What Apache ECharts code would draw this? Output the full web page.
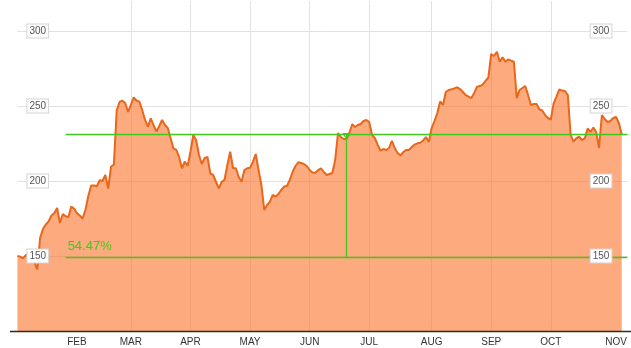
<!DOCTYPE html>
<html>
<head>
<meta charset="utf-8">
<script src="https://cdn.jsdelivr.net/npm/echarts@6/dist/echarts.min.js"></script>
<style>
html,body{margin:0;padding:0;background:#fff;}
#chart{width:631px;height:348px;}
</style>
</head>
<body>
<div id="chart"></div>
<script>
// ---- data ----
var dates = [
'2014-01-02','2014-01-03','2014-01-06','2014-01-07','2014-01-08','2014-01-09','2014-01-10','2014-01-13','2014-01-14','2014-01-15','2014-01-16','2014-01-17','2014-01-21','2014-01-22','2014-01-23','2014-01-24','2014-01-27','2014-01-28','2014-01-29','2014-01-30','2014-01-31',
'2014-02-03','2014-02-04','2014-02-05','2014-02-06','2014-02-07','2014-02-10','2014-02-11','2014-02-12','2014-02-13','2014-02-14','2014-02-18','2014-02-19','2014-02-20','2014-02-21','2014-02-24','2014-02-25','2014-02-26','2014-02-27','2014-02-28',
'2014-03-03','2014-03-04','2014-03-05','2014-03-06','2014-03-07','2014-03-10','2014-03-11','2014-03-12','2014-03-13','2014-03-14','2014-03-17','2014-03-18','2014-03-19','2014-03-20','2014-03-21','2014-03-24','2014-03-25','2014-03-26','2014-03-27','2014-03-28','2014-03-31',
'2014-04-01','2014-04-02','2014-04-03','2014-04-04','2014-04-07','2014-04-08','2014-04-09','2014-04-10','2014-04-11','2014-04-14','2014-04-15','2014-04-16','2014-04-17','2014-04-21','2014-04-22','2014-04-23','2014-04-24','2014-04-25','2014-04-28','2014-04-29','2014-04-30',
'2014-05-01','2014-05-02','2014-05-05','2014-05-06','2014-05-07','2014-05-08','2014-05-09','2014-05-12','2014-05-13','2014-05-14','2014-05-15','2014-05-16','2014-05-19','2014-05-20','2014-05-21','2014-05-22','2014-05-23','2014-05-27','2014-05-28','2014-05-29','2014-05-30',
'2014-06-02','2014-06-03','2014-06-04','2014-06-05','2014-06-06','2014-06-09','2014-06-10','2014-06-11','2014-06-12','2014-06-13','2014-06-16','2014-06-17','2014-06-18','2014-06-19','2014-06-20','2014-06-23','2014-06-24','2014-06-25','2014-06-26','2014-06-27','2014-06-30',
'2014-07-01','2014-07-02','2014-07-03','2014-07-07','2014-07-08','2014-07-09','2014-07-10','2014-07-11','2014-07-14','2014-07-15','2014-07-16','2014-07-17','2014-07-18','2014-07-21','2014-07-22','2014-07-23','2014-07-24','2014-07-25','2014-07-28','2014-07-29','2014-07-30','2014-07-31',
'2014-08-01','2014-08-04','2014-08-05','2014-08-06','2014-08-07','2014-08-08','2014-08-11','2014-08-12','2014-08-13','2014-08-14','2014-08-15','2014-08-18','2014-08-19','2014-08-20','2014-08-21','2014-08-22','2014-08-25','2014-08-26','2014-08-27','2014-08-28','2014-08-29',
'2014-09-02','2014-09-03','2014-09-04','2014-09-05','2014-09-08','2014-09-09','2014-09-10','2014-09-11','2014-09-12','2014-09-15','2014-09-16','2014-09-17','2014-09-18','2014-09-19','2014-09-22','2014-09-23','2014-09-24','2014-09-25','2014-09-26','2014-09-29','2014-09-30',
'2014-10-01','2014-10-02','2014-10-03','2014-10-06','2014-10-07','2014-10-08','2014-10-09','2014-10-10','2014-10-13','2014-10-14','2014-10-15','2014-10-16','2014-10-17','2014-10-20','2014-10-21','2014-10-22','2014-10-23','2014-10-24','2014-10-27','2014-10-28','2014-10-29','2014-10-30','2014-10-31',
'2014-11-03','2014-11-04','2014-11-05'
];
var closes = [
150.1,149.6,148.5,150.5,151.5,148,146,141,162,168,171,173,177,178.5,182,172,178,176.5,176,183,181.5,
178.5,177,175,181,190,197,197,196.5,200.5,200,204,195,209.5,211,247,252.7,253.5,252,246,
250.7,255.8,253.5,252.9,247.3,240.7,236.2,241.8,237.3,232.9,236.7,240.7,237.3,235.3,228.5,221.8,220.7,216,208.5,212.9,210,
219.5,230.7,227.3,217.3,211.3,215.3,216,205,204,199.5,195.1,199.5,200.7,210.7,219.5,208.5,208.5,202.7,199.5,207.3,208.5,
208.9,212.7,218,207.3,197.3,180.7,184,186.2,190.7,189.5,191.3,194,196.3,196.7,200.7,206,210,212.5,212,211.3,210,
207.3,205.7,205.5,207.3,208.5,206,204,204.7,205.3,214,232,229.3,228,228,232,237.8,236,237.3,238,240,240.7,
239.3,230.7,228.5,224,220.2,221.3,220.7,222,226.7,222,218.7,217,219.3,220.7,220.7,222.7,224.3,225.1,225.5,227,229.3,226,
235.3,240,245.3,253,250.7,259.3,260.7,261.1,261.7,262.5,261.3,259.3,257.3,256.2,255.3,258.7,262.9,263.3,264.3,266.7,269,
284.7,283.3,286.2,279.5,282.5,279.5,281.1,280.2,279.5,255.3,260.7,262,263.3,257.3,250.7,251.3,251.3,247.7,247,244,242,
241,251.8,256.3,261.1,260.3,260,257.3,230.7,226.3,228.5,229.5,227.3,228.5,235,232.7,235.7,232.7,222,244,241.3,239.3,240,242,
242.7,238.7,231
];
var monthStarts = ['2014-02-03','2014-03-03','2014-04-01','2014-05-01','2014-06-02','2014-07-01','2014-08-01','2014-09-02','2014-10-01','2014-11-03'];
var monthLabels = ['FEB','MAR','APR','MAY','JUN','JUL','AUG','SEP','OCT','NOV'];
var yTicks = [150, 200, 250, 300];
var baseValue = 149.5;
var pctLabel = '54.47%';
var refStartDate = '2014-01-28';
var crossDate = '2014-06-19';

// ---- chart ----
var cats = dates.concat(['pad1', 'pad2']);
var endValue = closes[closes.length - 1];
var lastCatIdx = cats.length - 1;
var refStartIdx = cats.indexOf(refStartDate);
var crossIdx = cats.indexOf(crossDate);
var green = '#3fca1e';
var font = 'Liberation Sans, Arial, sans-serif';
function isMonthStart(i, v) { return monthStarts.indexOf(v) >= 0; }

var labelBox = {
  inside: true, fontSize: 10, color: '#555', fontFamily: font,
  backgroundColor: '#fff', borderColor: '#d4d4d4', borderWidth: 1, padding: [1, 2, 2, 2],
  showMinLabel: false, showMaxLabel: false,
  formatter: function (v) { return yTicks.indexOf(v) >= 0 ? String(v) : ''; }
};
var gridColors = ['#e2e2e2', '#e2e2e2', '#e2e2e2', '#e2e2e2', '#e2e2e2', 'rgba(0,0,0,0)'];
var yBase = { type: 'value', min: 100, max: 320, interval: 50, axisLine: { show: false }, axisTick: { show: false } };

var chart = echarts.init(document.getElementById('chart'), null, { renderer: 'canvas' });
chart.setOption({
  animation: false,
  backgroundColor: '#fff',
  grid: { left: 17.4, right: 3.6, top: 1, bottom: 17, containLabel: false },
  xAxis: {
    type: 'category', data: cats, boundaryGap: false,
    axisLine: { show: false }, axisTick: { show: false },
    axisLabel: {
      interval: isMonthStart, margin: 6, fontSize: 10, color: '#333', fontFamily: font,
      formatter: function (v) { var k = monthStarts.indexOf(v); return k >= 0 ? monthLabels[k] : ''; }
    },
    splitLine: { show: true, interval: isMonthStart, showMinLine: false, showMaxLine: false,
                 lineStyle: { color: '#e2e2e2', width: 1 } }
  },
  yAxis: [
    Object.assign({}, yBase, {
      position: 'left', z: 0,
      axisLabel: { show: false },
      splitLine: { show: true, showMaxLine: false, lineStyle: { color: gridColors, width: 1 } }
    }),
    Object.assign({}, yBase, {
      position: 'left', z: 6,
      axisLabel: Object.assign({}, labelBox, { margin: 10 }),
      splitLine: { show: false }
    }),
    Object.assign({}, yBase, {
      position: 'right', z: 6,
      axisLabel: Object.assign({}, labelBox, { margin: 16 }),
      splitLine: { show: false }
    })
  ],
  series: [{
    type: 'line', data: closes, yAxisIndex: 0, showSymbol: false, symbol: 'none', smooth: false,
    lineStyle: { color: '#e8671b', width: 2 },
    areaStyle: { color: 'rgb(252,120,50)', opacity: 0.63 },
    markLine: {
      silent: true, symbol: ['none', 'none'], animation: false,
      lineStyle: { color: green, width: 1.3, type: 'solid', opacity: 1 },
      label: { show: false },
      data: [
        [{ coord: [refStartIdx, endValue], lineStyle: { color: green } }, { coord: [lastCatIdx, endValue] }],
        [{ coord: [refStartIdx, baseValue], lineStyle: { color: green },
           label: { show: true, position: 'insideStartTop', formatter: pctLabel, color: green,
                    fontSize: 13, fontFamily: font, distance: [2, 4] } },
         { coord: [lastCatIdx, baseValue] }],
        [{ coord: [crossIdx, baseValue], lineStyle: { color: green } }, { coord: [crossIdx, endValue] }]
      ]
    },
    markPoint: {
      silent: true, animation: false,
      symbol: 'triangle', symbolSize: 6, symbolRotate: 180, symbolOffset: [0, 2],
      itemStyle: { color: 'rgba(0,0,0,0)', borderColor: green, borderWidth: 1.2 },
      label: { show: false },
      data: [{ coord: [crossIdx, endValue] }]
    }
  }]
});

var axisY = Math.round(chart.convertToPixel({ yAxisIndex: 0 }, 100)) + 0.5;
chart.setOption({
  graphic: [{
    type: 'line', silent: true, z: 100,
    shape: { x1: 10, y1: axisY, x2: 631, y2: axisY },
    style: { stroke: '#2e2a27', lineWidth: 1.3 }
  }]
});
</script>
</body>
</html>
